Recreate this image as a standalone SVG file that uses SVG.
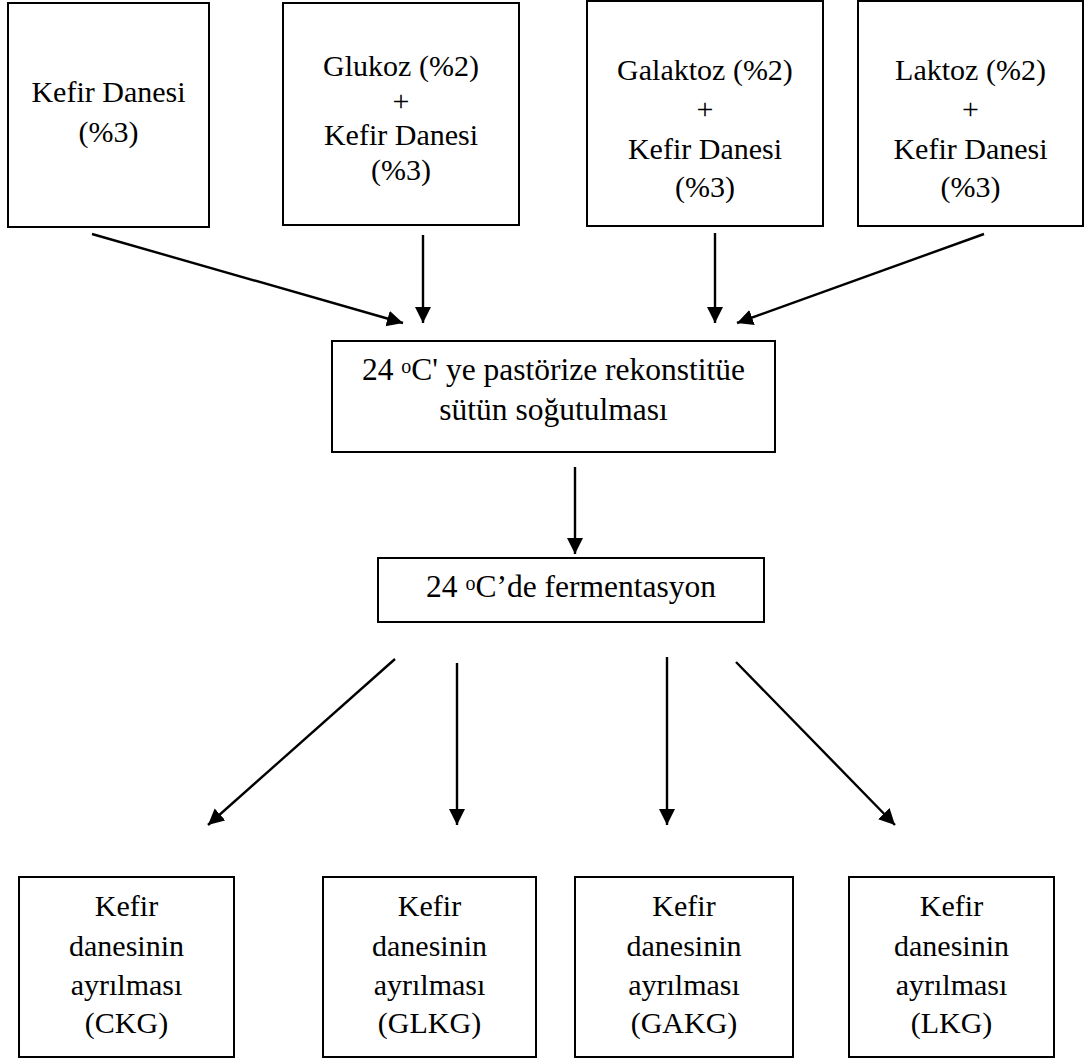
<svg xmlns="http://www.w3.org/2000/svg" width="1086" height="1061" viewBox="0 0 1086 1061">
<style>
.box{fill:#fff;stroke:#000;stroke-width:2}
.t{font-family:"Liberation Serif","Times New Roman",serif;font-size:30px;fill:#000;text-anchor:middle}
.m{font-size:31.5px}
.sup{font-size:20px}
.c{stroke:#000;stroke-width:2.4;fill:none;marker-end:url(#ah)}
</style>
<defs>
<marker id="ah" markerUnits="userSpaceOnUse" markerWidth="18" markerHeight="18" refX="16" refY="8" orient="auto">
<path d="M0,0 L16,8 L0,16 z" fill="#000"/>
</marker>
</defs>
<rect width="1086" height="1061" fill="#fff"/>
<g id="n1"><rect class="box" x="8" y="3" width="201" height="224"/>
<text class="t" x="108.5" y="102">Kefir Danesi</text><text class="t" x="108.5" y="142">(%3)</text></g>
<g id="n2"><rect class="box" x="283" y="3" width="236" height="222"/>
<text class="t" x="401" y="76">Glukoz (%2)</text><text class="t" x="401" y="111">+</text><text class="t" x="401" y="145">Kefir Danesi</text><text class="t" x="401" y="180">(%3)</text></g>
<g id="n3"><rect class="box" x="587" y="1" width="236" height="225"/>
<text class="t" x="705" y="80">Galaktoz (%2)</text><text class="t" x="705" y="119">+</text><text class="t" x="705" y="159">Kefir Danesi</text><text class="t" x="705" y="197">(%3)</text></g>
<g id="n4"><rect class="box" x="858" y="1" width="225" height="225"/>
<text class="t" x="970.5" y="80">Laktoz (%2)</text><text class="t" x="970.5" y="119">+</text><text class="t" x="970.5" y="159">Kefir Danesi</text><text class="t" x="970.5" y="197">(%3)</text></g>
<g id="n5"><rect class="box" x="332" y="341" width="443" height="111"/>
<text class="t m" x="553.5" y="380">24 <tspan class="sup" dy="-7">o</tspan><tspan dy="7">C' ye pastörize rekonstitüe</tspan></text>
<text class="t m" x="553.5" y="420">sütün soğutulması</text></g>
<g id="n6"><rect class="box" x="378" y="558" width="386" height="64"/>
<text class="t m" x="571" y="597">24 <tspan class="sup" dy="-7">o</tspan><tspan dy="7">C’de fermentasyon</tspan></text></g>
<g id="n7"><rect class="box" x="19" y="877" width="215" height="180"/>
<text class="t" x="126.5" y="916">Kefir</text><text class="t" x="126.5" y="956">danesinin</text><text class="t" x="126.5" y="995">ayrılması</text><text class="t" x="126.5" y="1033">(CKG)</text></g>
<g id="n8"><rect class="box" x="323" y="877" width="213" height="180"/>
<text class="t" x="429.5" y="916">Kefir</text><text class="t" x="429.5" y="956">danesinin</text><text class="t" x="429.5" y="995">ayrılması</text><text class="t" x="429.5" y="1033">(GLKG)</text></g>
<g id="n9"><rect class="box" x="575" y="877" width="218" height="180"/>
<text class="t" x="684" y="916">Kefir</text><text class="t" x="684" y="956">danesinin</text><text class="t" x="684" y="995">ayrılması</text><text class="t" x="684" y="1033">(GAKG)</text></g>
<g id="n10"><rect class="box" x="849" y="877" width="205" height="180"/>
<text class="t" x="951.5" y="916">Kefir</text><text class="t" x="951.5" y="956">danesinin</text><text class="t" x="951.5" y="995">ayrılması</text><text class="t" x="951.5" y="1033">(LKG)</text></g>
<g id="connectors">
<line class="c" x1="92" y1="234" x2="403" y2="323"/>
<line class="c" x1="423" y1="235" x2="423" y2="323"/>
<line class="c" x1="715" y1="233" x2="715" y2="323"/>
<line class="c" x1="984" y1="234" x2="737" y2="323"/>
<line class="c" x1="575" y1="467" x2="575" y2="554"/>
<line class="c" x1="395" y1="659" x2="208" y2="825"/>
<line class="c" x1="457" y1="663" x2="457" y2="825"/>
<line class="c" x1="667" y1="657" x2="667" y2="825"/>
<line class="c" x1="736" y1="662" x2="895" y2="825"/>
</g>
</svg>
